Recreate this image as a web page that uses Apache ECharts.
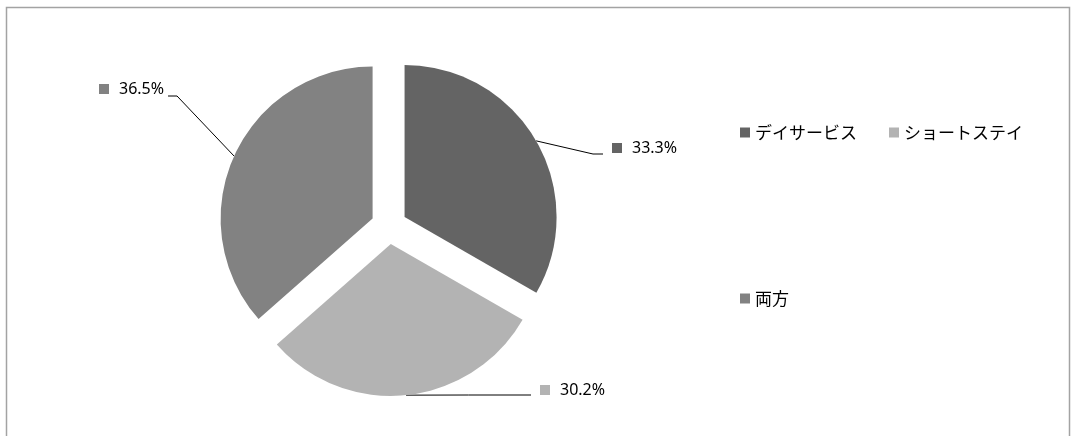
<!DOCTYPE html>
<html>
<head>
<meta charset="utf-8">
<script src="https://cdn.jsdelivr.net/npm/echarts@6/dist/echarts.min.js"></script>
<style>html,body{margin:0;padding:0;background:#fff;}#c{width:1071px;height:436px;}</style>
</head>
<body>
<div id="c"></div>
<script>
const categories = ['デイサービス', 'ショートステイ', '両方'];
const values = [33.3, 30.2, 36.5];
const colors = ['#646464', '#b3b3b3', '#828282'];
// label anchor placement (left edge of key square, vertical middle) per slice
const labelSpots = [[612, 148], [540, 390], [99, 89]];
const OFFSET = 18;

const total = values.reduce((a, b) => a + b, 0);
const midAngles = [];
(function () {
  let cum = 0;
  values.forEach(v => { midAngles.push((cum + v / 2) / total * 2 * Math.PI); cum += v; });
})();

const chart = echarts.init(document.getElementById('c'), null, {renderer: 'canvas'});

const data = categories.map((name, i) => ({
  name: name,
  value: values[i],
  selected: true,
  itemStyle: {color: colors[i]},
  label: {
    formatter: '{sq' + i + '|}{t|' + values[i].toFixed(1) + '%}',
    rich: {
      ['sq' + i]: {width: 10, height: 10, backgroundColor: colors[i]},
      t: {fontSize: 16, fontFamily: 'Noto Sans', color: '#000', padding: [0, 0, 0, 10]}
    }
  }
}));

chart.setOption({
  animation: false,
  graphic: [{
    type: 'rect',
    shape: {x: 6.5, y: 7.5, width: 1063, height: 520},
    style: {fill: 'none', stroke: '#a3a3a3', lineWidth: 1.5},
    silent: true
  }],
  legend: [{
    data: categories.slice(0, 2),
    left: 740, top: 124, padding: 0,
    icon: 'rect', itemWidth: 10, itemHeight: 10, itemGap: 32,
    selectedMode: false,
    textStyle: {fontFamily: 'Noto Sans CJK JP', fontSize: 17, color: '#000'}
  }, {
    data: categories.slice(2),
    left: 740, top: 290, padding: 0,
    icon: 'rect', itemWidth: 10, itemHeight: 10,
    selectedMode: false,
    textStyle: {fontFamily: 'Noto Sans CJK JP', fontSize: 17, color: '#000'}
  }],
  series: [{
    type: 'pie',
    center: [389, 226],
    radius: [0, 152],
    startAngle: 90,
    clockwise: true,
    selectedMode: 'multiple',
    selectedOffset: OFFSET,
    emphasis: {disabled: true},
    silent: true,
    label: {show: true, position: 'outside'},
    labelLine: {show: true, length: 20, length2: 10, lineStyle: {color: '#000', width: 1}},
    labelLayout: function (p) {
      const i = p.dataIndex;
      const spot = labelSpots[i];
      const r = p.labelRect;
      // label and line live in the slice's local frame (shifted by selected offset)
      const ox = OFFSET * Math.sin(midAngles[i]);
      const oy = -OFFSET * Math.cos(midAngles[i]);
      const dx = spot[0] - r.x - ox;
      const dy = spot[1] - (r.y + r.height / 2) - oy;
      const L = (x, y) => [x - ox, y - oy];
      const start = (p.labelLinePoints && p.labelLinePoints[0]) || [0, 0];
      let pts;
      if (i === 0) {
        pts = [start, L(spot[0] - 19, spot[1] + 6), L(spot[0] - 9, spot[1] + 6)];
      } else if (i === 1) {
        const e = L(spot[0] - 9, spot[1] + 5);
        pts = [start, [(start[0] + e[0]) / 2, e[1]], e];
      } else {
        const right = spot[0] + r.width;
        pts = [start, L(right + 13, spot[1] + 7), L(right + 4, spot[1] + 7)];
      }
      return {dx: dx, dy: dy, labelLinePoints: pts};
    },
    data: data
  }]
});
</script>
</body>
</html>
